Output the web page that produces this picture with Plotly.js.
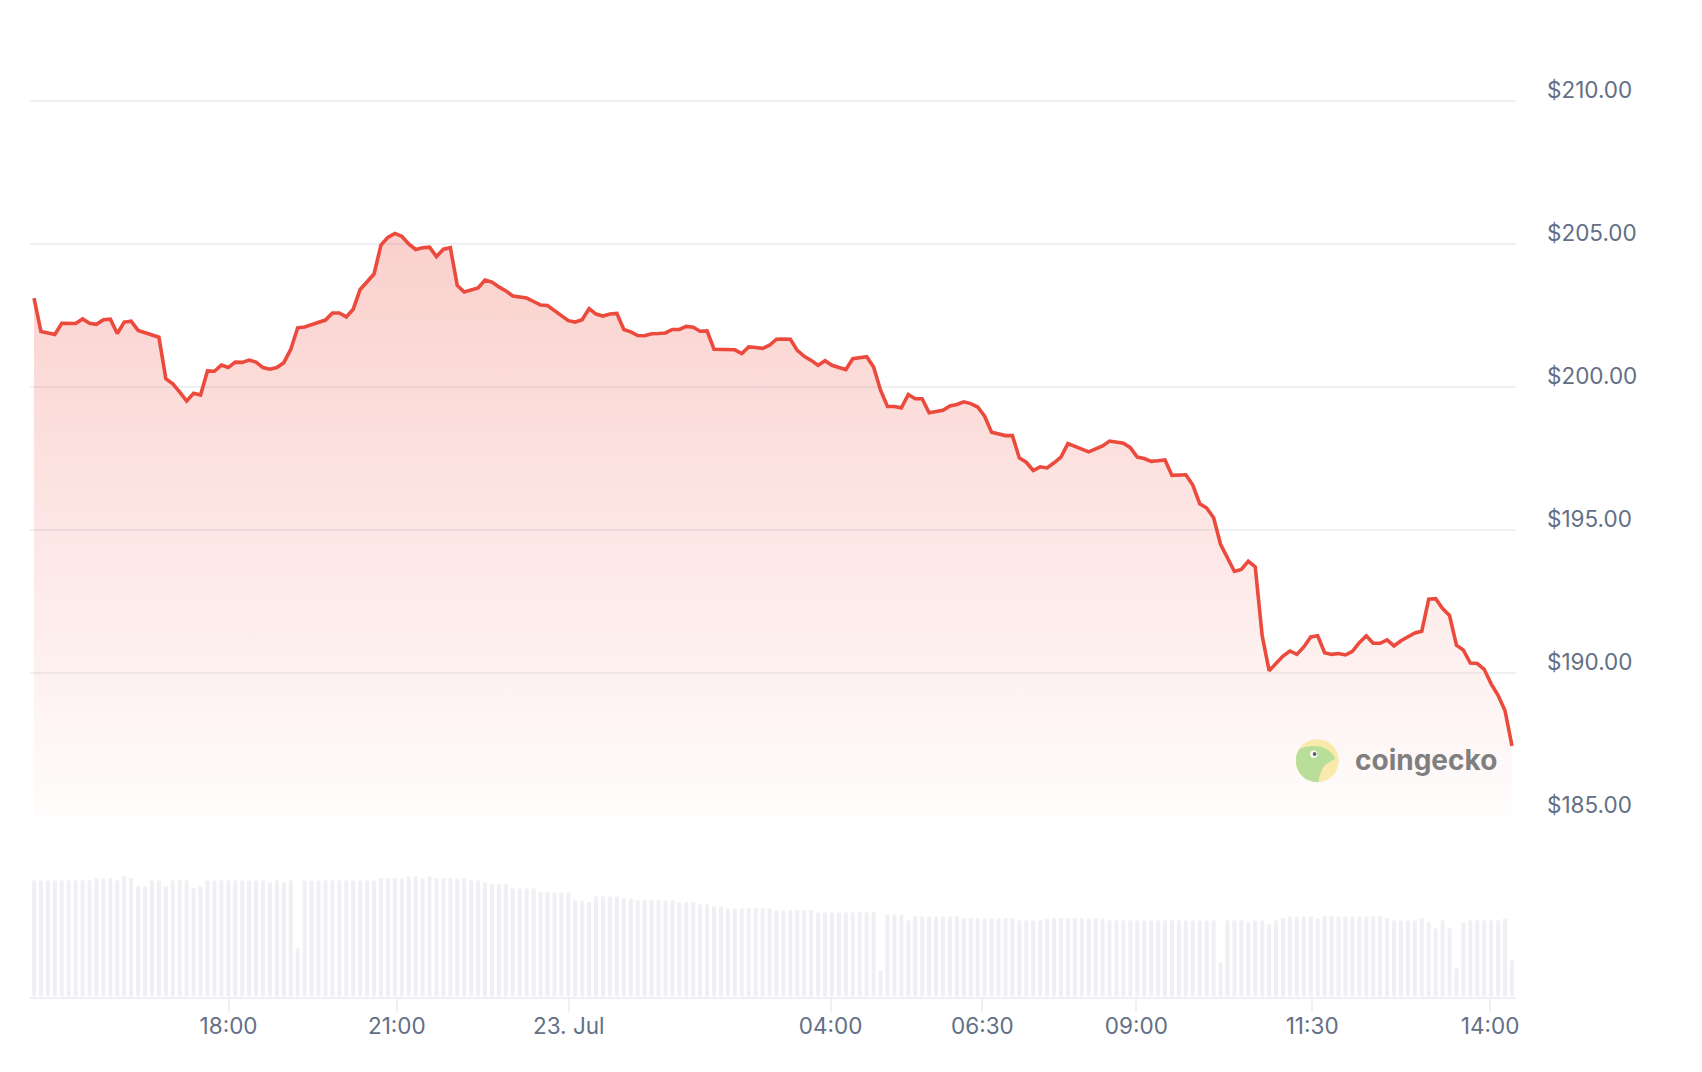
<!DOCTYPE html>
<html>
<head>
<meta charset="utf-8">
<script src="https://cdn.plot.ly/plotly-3.0.1.min.js"></script>
<style>
  html, body { margin: 0; padding: 0; background: #ffffff; }
  #chart { width: 1702px; height: 1072px; }
</style>
</head>
<body>
<div id="chart"></div>
<script>
// Price (USD), one value per ordinal data point
const price = [
  203.11, 201.94, 201.89, 201.84, 202.23, 202.23, 202.22, 202.38, 202.23, 202.19,
  202.35, 202.37, 201.87, 202.27, 202.30, 201.98, 201.91, 201.84, 201.74, 200.29,
  200.11, 199.82, 199.51, 199.78, 199.72, 200.56, 200.55, 200.77, 200.68, 200.87,
  200.86, 200.94, 200.87, 200.68, 200.62, 200.68, 200.85, 201.32, 202.07, 202.10,
  202.18, 202.29, 202.34, 202.59, 202.59, 202.45, 202.72, 203.41, 203.69, 203.95,
  204.96, 205.23, 205.37, 205.27, 205.00, 204.81, 204.87, 204.89, 204.56, 204.82,
  204.87, 203.55, 203.32, 203.40, 203.46, 203.74, 203.67, 203.50, 203.36, 203.18,
  203.16, 203.11, 202.99, 202.87, 202.85, 202.67, 202.48, 202.32, 202.27, 202.35,
  202.74, 202.55, 202.48, 202.55, 202.57, 202.01, 201.93, 201.80, 201.79, 201.86,
  201.87, 201.89, 202.01, 202.01, 202.12, 202.09, 201.95, 201.96, 201.32, 201.32,
  201.31, 201.30, 201.17, 201.40, 201.38, 201.35, 201.46, 201.67, 201.68, 201.67,
  201.28, 201.07, 200.93, 200.76, 200.92, 200.76, 200.68, 200.61, 200.99, 201.01,
  201.06, 200.70, 199.89, 199.32, 199.32, 199.27, 199.74, 199.59, 199.59, 199.10,
  199.14, 199.19, 199.34, 199.39, 199.48, 199.42, 199.30, 198.98, 198.42, 198.35,
  198.30, 198.30, 197.52, 197.37, 197.08, 197.21, 197.17, 197.35, 197.55, 198.02,
  197.94, 197.83, 197.73, 197.82, 197.94, 198.11, 198.06, 198.03, 197.88, 197.55,
  197.50, 197.40, 197.42, 197.45, 196.91, 196.92, 196.93, 196.57, 195.92, 195.77,
  195.43, 194.50, 194.03, 193.55, 193.62, 193.91, 193.71, 191.30, 190.08, 190.35,
  190.59, 190.77, 190.65, 190.91, 191.26, 191.30, 190.71, 190.65, 190.68, 190.63,
  190.76, 191.06, 191.30, 191.04, 191.04, 191.16, 190.95, 191.13, 191.25, 191.40,
  191.46, 192.58, 192.60, 192.25, 192.01, 190.97, 190.80, 190.35, 190.33, 190.13,
  189.62, 189.22, 188.68, 187.45
];

// Volume (relative units), one value per data point
const volume = [
  116, 116, 116, 116, 116, 116, 116, 116, 116, 118,
  118, 118, 116, 120, 118, 110, 110, 116, 116, 110,
  116, 116, 116, 108, 110, 116, 116, 116, 116, 116,
  116, 116, 116, 116, 114, 116, 114, 116, 48, 116,
  116, 116, 116, 116, 116, 116, 116, 116, 116, 116,
  118, 118, 118, 118, 120, 120, 118, 120, 118, 118,
  118, 118, 118, 116, 116, 114, 112, 112, 112, 108,
  108, 108, 108, 104, 104, 104, 104, 104, 96, 96,
  94, 100, 100, 100, 100, 98, 98, 96, 96, 96,
  96, 96, 96, 94, 94, 94, 92, 92, 90, 90,
  88, 88, 88, 88, 88, 88, 88, 86, 86, 86,
  86, 86, 86, 84, 84, 84, 84, 84, 84, 84,
  84, 84, 26, 82, 82, 82, 76, 80, 80, 80,
  80, 80, 80, 80, 78, 78, 78, 78, 78, 78,
  78, 78, 76, 76, 76, 76, 78, 78, 78, 78,
  78, 78, 78, 78, 78, 76, 76, 76, 76, 76,
  76, 76, 76, 76, 76, 76, 76, 76, 76, 76,
  76, 34, 76, 76, 76, 74, 76, 76, 72, 76,
  78, 80, 80, 80, 80, 78, 80, 80, 80, 80,
  80, 80, 80, 80, 80, 78, 76, 76, 76, 76,
  78, 74, 68, 76, 68, 28, 74, 76, 76, 76,
  76, 76, 78, 36
];

// Ordinal axis tick labels and where they fall between data points
const tickLabels = ['18:00', '21:00', '23. Jul', '04:00', '06:30', '09:00', '11:30', '14:00'];
const tickIndex  = [28.04, 52.28, 77.06, 114.79, 136.68, 158.87, 184.2, 209.85];

const priceTicks = [185, 190, 195, 200, 205, 210];
const priceTickText = priceTicks.map(v => '$' + v.toFixed(2));

const idx = price.map((_, i) => i);

const LINE = '#eb4a3d';
const LABEL = '#626f86';
const GRID = '#eff0f4';

const priceTrace = {
  type: 'scatter', mode: 'lines',
  x: idx, y: price, xaxis: 'x', yaxis: 'y',
  line: { color: LINE, width: 3.6, shape: 'linear' },
  fill: 'tozeroy',
  fillgradient: {
    type: 'vertical',
    start: 185, stop: Math.max(...price),
    colorscale: [[0, 'rgba(235,74,61,0.015)'], [1, 'rgba(235,74,61,0.26)']]
  },
  hoverinfo: 'skip'
};

const volTrace = {
  type: 'bar',
  x: idx, y: volume, xaxis: 'x', yaxis: 'y2',
  width: 0.58,
  marker: { color: '#eff0f4', line: { width: 0 } },
  hoverinfo: 'skip'
};

const L = 30, R = 186, W = 1702, H = 1072;
const plotW = W - L - R;
const px = v => (v - L) / plotW;
const py = v => (H - v) / H;
// price scale: $185 at y=816px, 28.6 px per dollar
const yOf = v => 816 - (v - 185) * 28.6;

const gecko = 'data:image/svg+xml;utf8,' + encodeURIComponent(
  '<svg xmlns="http://www.w3.org/2000/svg" width="44" height="44" viewBox="0 0 44 44">' +
  '<defs><clipPath id="c"><circle cx="22" cy="22" r="21.5"/></clipPath></defs>' +
  '<circle cx="22" cy="22" r="21.5" fill="#f9eaa7"/>' +
  '<path clip-path="url(#c)" fill="#b5dd95" d="M0 44 L0 13 C6 8 16 6 26 8 C33 10 38 15 40 20 C36 23 32 24 29 27 C26 31 24 37 23 44 Z"/>' +
  '<circle cx="18.5" cy="15.5" r="3.6" fill="#ffffff"/>' +
  '<circle cx="19.3" cy="15.3" r="1.9" fill="#5a5a5a"/>' +
  '</svg>');

const layout = {
  width: W, height: H,
  margin: { l: L, r: R, t: 0, b: 0, pad: 0 },
  paper_bgcolor: '#ffffff', plot_bgcolor: 'rgba(0,0,0,0)',
  showlegend: false,
  font: { family: 'Inter, "Noto Sans", sans-serif', color: LABEL, size: 22.5 },
  xaxis: {
    domain: [0, 1],
    anchor: 'y2',
    range: [-0.58, 213.58],
    showgrid: false, zeroline: false,
    showline: true, linecolor: GRID, linewidth: 2,
    ticks: 'outside', ticklen: 13, tickwidth: 2, tickcolor: GRID,
    tickmode: 'array', tickvals: tickIndex, ticktext: tickLabels,
    tickfont: { size: 22.5, color: LABEL },
    ticklabelstandoff: -5,
    fixedrange: true
  },
  yaxis: {
    domain: [py(yOf(184.98)), py(yOf(211))],
    range: [184.98, 211],
    side: 'right', anchor: 'x',
    showgrid: true, gridcolor: GRID, gridwidth: 1.5,
    zeroline: false, showline: false, ticks: '',
    tickmode: 'array', tickvals: priceTicks, ticktext: priceTickText,
    tickfont: { size: 22.5, color: LABEL },
    ticklabelstandoff: 30,
    ticklabelshift: -11,
    fixedrange: true
  },
  yaxis2: {
    domain: [py(996.5), py(866.5)],
    range: [0, 130],
    anchor: 'x',
    showgrid: false, zeroline: false, showline: false,
    showticklabels: false, ticks: '',
    fixedrange: true
  },
  images: [{
    source: gecko, xref: 'paper', yref: 'paper',
    x: px(1317.3), y: py(760.7), sizex: 44 / plotW, sizey: 44 / H,
    xanchor: 'center', yanchor: 'middle', sizing: 'stretch', layer: 'above', opacity: 0.95
  }],
  annotations: [{
    text: 'coingecko', xref: 'paper', yref: 'paper',
    x: px(1425.7), y: py(760), xanchor: 'center', yanchor: 'middle',
    showarrow: false,
    font: { family: 'Inter, "Noto Sans", sans-serif', size: 28, weight: 700, color: '#7f7f7f' }
  }]
};

Plotly.newPlot('chart', [volTrace, priceTrace], layout, { displayModeBar: false, staticPlot: true });
</script>
</body>
</html>
